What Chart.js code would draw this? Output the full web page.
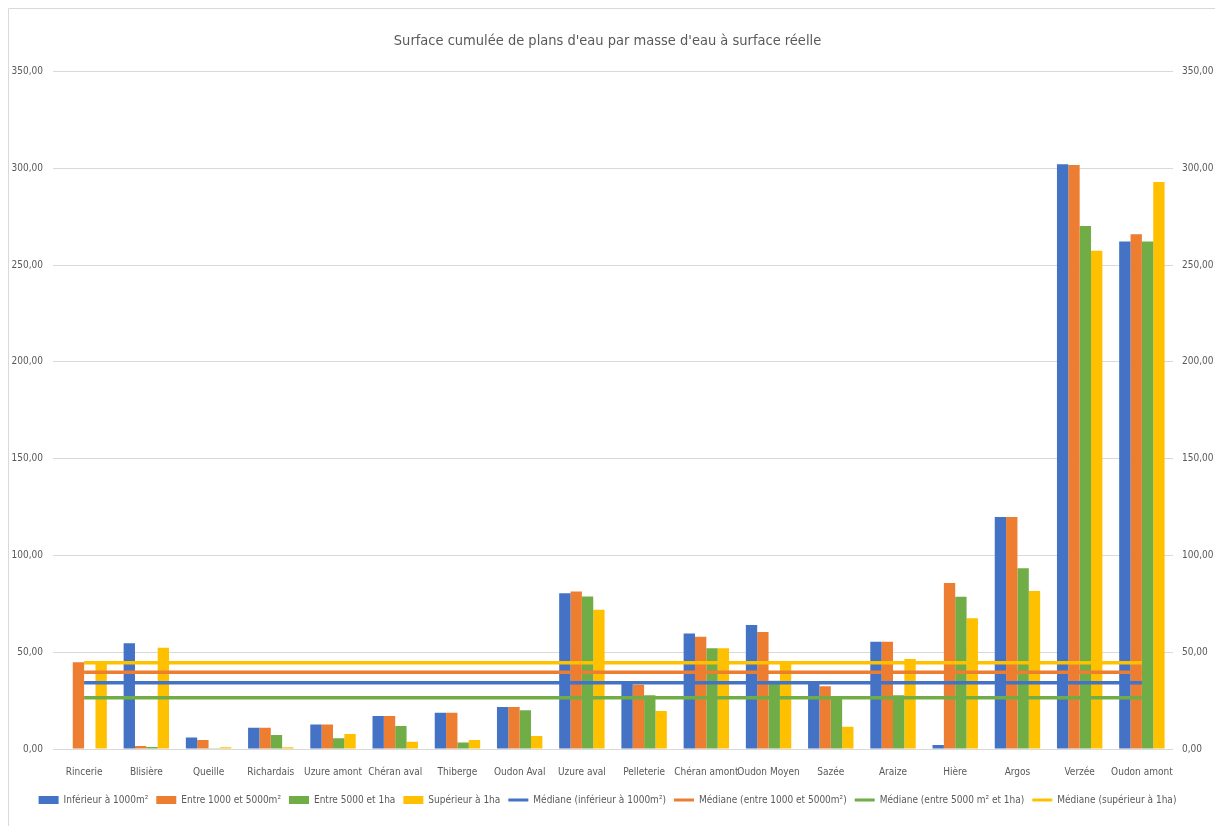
<!DOCTYPE html>
<html>
<head>
<meta charset="utf-8">
<script src="https://cdn.jsdelivr.net/npm/chart.js@4.4.1/dist/chart.umd.min.js"></script>
<style>
  html, body { margin: 0; padding: 0; background: #ffffff; }
  #wrap { position: absolute; left: 0; top: 0; width: 1215px; height: 826px; }
</style>
</head>
<body>
<div id="wrap"><canvas id="c" width="1215" height="826"></canvas></div>
<script>
// ---- data ----
const categories = ['Rincerie', 'Blisière', 'Queille', 'Richardais', 'Uzure amont', 'Chéran aval', 'Thiberge', 'Oudon Aval', 'Uzure aval', 'Pelleterie', 'Chéran amont', 'Oudon Moyen', 'Sazée', 'Araize', 'Hière', 'Argos', 'Verzée', 'Oudon amont'];
const inferieur1000 = [0, 54.6, 6.0, 11.0, 12.7, 17.0, 18.7, 21.7, 80.5, 34.4, 59.7, 64.0, 34.4, 55.4, 2.1, 119.8, 302.0, 262.1];
const entre1000et5000 = [44.8, 1.6, 4.6, 11.0, 12.7, 17.0, 18.7, 21.7, 81.4, 33.2, 58.0, 60.4, 32.4, 55.4, 85.7, 119.8, 301.7, 265.9];
const entre5000et1ha = [0, 1.0, 0.4, 7.2, 5.5, 11.9, 3.4, 20.0, 78.8, 27.7, 52.0, 35.3, 27.0, 27.7, 78.6, 93.3, 270.2, 262.1];
const superieur1ha = [45.2, 52.3, 0.9, 0.9, 7.7, 3.8, 4.6, 6.7, 71.9, 19.6, 52.0, 44.4, 11.5, 46.5, 67.6, 81.6, 257.3, 292.9];
const medianeInf1000 = 34.2;
const medianeEntre1000et5000 = 39.6;
const medianeEntre5000et1ha = 26.5;
const medianeSup1ha = 44.6;
const yTicks = [0, 50, 100, 150, 200, 250, 300, 350];

const BLUE = '#4472C4', ORANGE = '#ED7D31', GREEN = '#70AD47', YELLOW = '#FFC000';
const GREY = '#595959';
const FONT = "'Liberation Sans Narrow', 'DejaVu Sans Condensed', Lato, sans-serif";

function fmt(v) { return Number(v).toFixed(2).replace('.', ','); }

const borderPlugin = {
  id: 'outerBorder',
  beforeDraw(chart) {
    const ctx = chart.ctx;
    ctx.save();
    ctx.strokeStyle = '#d9d9d9';
    ctx.lineWidth = 1;
    ctx.beginPath();
    ctx.moveTo(8.5, 826);
    ctx.lineTo(8.5, 8.5);
    ctx.lineTo(1215, 8.5);
    ctx.stroke();
    ctx.restore();
  }
};

function barDs(label, data, color) {
  return { type: 'bar', label, data, backgroundColor: color, borderWidth: 0, order: 2, yAxisID: 'y',
           categoryPercentage: 0.73, barPercentage: 1.0 };
}
function lineDs(label, value, color) {
  return { type: 'line', label, data: categories.map(() => value), borderColor: color, backgroundColor: color,
           borderWidth: 3.5, pointRadius: 0, pointHoverRadius: 0, fill: false, order: 1, yAxisID: 'y' };
}

new Chart(document.getElementById('c'), {
  data: {
    labels: categories,
    datasets: [
      barDs('Inférieur à 1000m²', inferieur1000, BLUE),
      barDs('Entre 1000 et 5000m²', entre1000et5000, ORANGE),
      barDs('Entre 5000 et 1ha', entre5000et1ha, GREEN),
      barDs('Supérieur à 1ha', superieur1ha, YELLOW),
      lineDs('Médiane (inférieur à 1000m²)', medianeInf1000, BLUE),
      lineDs('Médiane (entre 1000 et 5000m²)', medianeEntre1000et5000, ORANGE),
      lineDs('Médiane (entre 5000 m² et 1ha)', medianeEntre5000et1ha, GREEN),
      lineDs('Médiane (supérieur à 1ha)', medianeSup1ha, YELLOW)
    ]
  },
  options: {
    responsive: false,
    animation: false,
    font: { family: FONT },
    layout: { padding: { left: 0, right: 0, top: 20, bottom: 11 } },
    plugins: {
      title: {
        display: true,
        text: 'Surface cumulée de plans d\'eau par masse d\'eau à surface réelle',
        color: GREY,
        font: { family: FONT, size: 14.5, weight: 'normal' },
        padding: { top: 13, bottom: 21 }
      },
      legend: {
        position: 'bottom',
        labels: {
          color: GREY,
          font: { family: FONT, size: 10 },
          usePointStyle: true,
          pointStyleWidth: 20,
          boxHeight: 8,
          padding: 8,
          sort: (a, b) => a.datasetIndex - b.datasetIndex,
          generateLabels(chart) {
            const items = Chart.defaults.plugins.legend.labels.generateLabels(chart);
            items.forEach(it => {
              const ds = chart.data.datasets[it.datasetIndex];
              if (ds.type === 'line') { it.pointStyle = 'line'; it.lineWidth = 3; it.strokeStyle = ds.borderColor; }
              else { it.pointStyle = 'rect'; it.lineWidth = 0; }
            });
            return items;
          }
        }
      },
      tooltip: { enabled: false }
    },
    scales: {
      x: {
        grid: { display: false },
        border: { display: false },
        ticks: { color: GREY, font: { family: FONT, size: 10 }, autoSkip: false, maxRotation: 0, padding: 9 }
      },
      y: {
        position: 'left',
        min: 0, max: 350,
        afterBuildTicks(axis) { axis.ticks = yTicks.map(v => ({ value: v })); },
        afterFit(axis) { axis.width = 53; },
        grid: { color: '#d9d9d9', drawTicks: false },
        border: { display: false },
        ticks: { color: GREY, font: { family: FONT, size: 10 }, padding: 10, callback: v => fmt(v) }
      },
      y2: {
        position: 'right',
        min: 0, max: 350,
        afterBuildTicks(axis) { axis.ticks = yTicks.map(v => ({ value: v })); },
        afterFit(axis) { axis.width = 42; },
        grid: { display: false, drawTicks: false },
        border: { display: false },
        ticks: { color: GREY, font: { family: FONT, size: 10 }, padding: 9, callback: v => fmt(v) }
      }
    }
  },
  plugins: [borderPlugin]
});
</script>
</body>
</html>
